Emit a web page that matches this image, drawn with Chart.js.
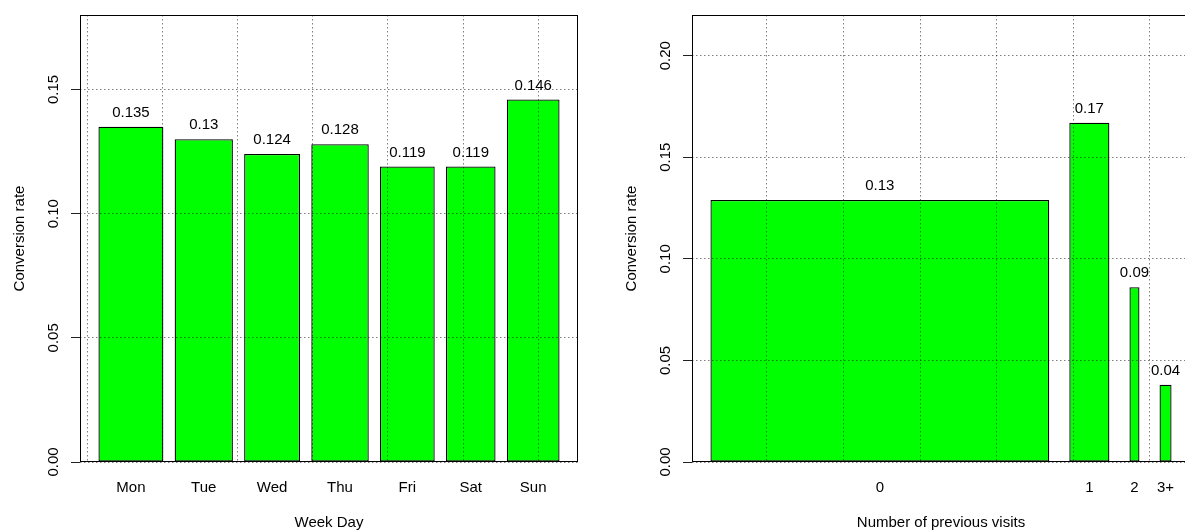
<!DOCTYPE html>
<html>
<head>
<meta charset="utf-8">
<script src="https://cdn.jsdelivr.net/npm/chart.js@4.4.1/dist/chart.umd.min.js"></script>
<style>
  html, body { margin: 0; padding: 0; background: #fff; overflow: hidden; }
  body { width: 1185px; height: 532px; position: relative; }
  canvas { position: absolute; top: 0; }
  #dayChart { left: 0; }
  #visitChart { left: 612px; }
</style>
</head>
<body>
<canvas id="dayChart" width="612" height="532"></canvas>
<canvas id="visitChart" width="612" height="532"></canvas>
<script>
// conversion by week day; bar width = share of sessions
const dayLabels = ['Mon', 'Tue', 'Wed', 'Thu', 'Fri', 'Sat', 'Sun'];
const dayRate = [0.135, 0.13, 0.124, 0.128, 0.119, 0.119, 0.146];
const dayShare = [0.165, 0.148, 0.142, 0.146, 0.139, 0.126, 0.134];
const dayTicks = [0, 0.05, 0.10, 0.15];

// conversion by number of previous visits
const visitLabels = ['0', '1', '2', '3+'];
const visitRate = [0.129, 0.167, 0.086, 0.038];
const visitShare = [0.845, 0.100, 0.025, 0.030];
const visitTicks = [0, 0.05, 0.10, 0.15, 0.20];

const gridStep = 0.191;
const FONT = '"Liberation Sans", Arial, Helvetica, sans-serif';

Chart.defaults.font.family = FONT;
Chart.defaults.font.size = 15;
Chart.defaults.color = '#000';

// barplot-style placement: gap = 0.2 * mean width, 4% padding on both ends
function barLayout(widths) {
  const space = 0.2 * widths.reduce((a, b) => a + b, 0) / widths.length;
  let right = 0;
  const spans = widths.map(w => {
    right += space + w;
    return [right - w, right];
  });
  const lo = spans[0][0];
  const pad = 0.04 * (right - lo);
  return {
    spans,
    centers: spans.map(s => (s[0] + s[1]) / 2),
    min: lo - pad,
    max: right + pad
  };
}

// bar controller whose bars span [from, to] on a linear x scale
const BaseBar = Chart.BarController || Chart.registry.getController('bar');
class ShareBarController extends BaseBar {
  _calculateBarIndexPixels(index) {
    const scale = this._cachedMeta.iScale;
    const span = this.getDataset().spans[index];
    const a = scale.getPixelForValue(span[0]);
    const b = scale.getPixelForValue(span[1]);
    return {base: a, head: b, center: (a + b) / 2, size: b - a};
  }
}
ShareBarController.id = 'shareBar';
ShareBarController.defaults = BaseBar.defaults;
ShareBarController.overrides = BaseBar.overrides;
Chart.register(ShareBarController);

const frame = {
  id: 'frame',
  afterDatasetsDraw(chart) {
    const ctx = chart.ctx;
    const ds = chart.data.datasets[0];
    ctx.save();
    ctx.font = '15px ' + FONT;
    ctx.fillStyle = '#000';
    ctx.textAlign = 'center';
    ctx.textBaseline = 'middle';
    chart.getDatasetMeta(0).data.forEach((bar, i) => {
      const v = ds.data[i].y;
      const txt = ds.digits == null ? String(v) : v.toFixed(ds.digits);
      ctx.fillText(txt, bar.x, bar.y - 14);
    });
    ctx.restore();
  },
  afterDraw(chart) {
    const {ctx, chartArea: a, scales: {y}} = chart;
    ctx.save();
    ctx.strokeStyle = '#000';
    ctx.lineWidth = 1;
    const l = Math.round(a.left) + 0.5, t = Math.round(a.top) + 0.5;
    const r = Math.round(a.right) - 0.5, b = Math.round(a.bottom) - 0.5;
    ctx.strokeRect(l, t, r - l, b - t);

    // rotated y tick labels
    ctx.font = '15px ' + FONT;
    ctx.fillStyle = '#000';
    ctx.textAlign = 'center';
    ctx.textBaseline = 'middle';
    y.ticks.forEach(tk => {
      ctx.save();
      ctx.translate(a.left - 26, y.getPixelForValue(tk.value));
      ctx.rotate(-Math.PI / 2);
      ctx.fillText(tk.value.toFixed(2), 0, 0);
      ctx.restore();
    });
    ctx.restore();
  }
};

const dotted = 'rgba(0,0,0,0.5)';

function makeChart(id, labels, rates, shares, yTicks, yMax, xTitle, digits) {
  const lay = barLayout(shares);
  const gridVals = [];
  for (let k = Math.ceil(lay.min / gridStep); k * gridStep <= lay.max; k++) {
    gridVals.push(k * gridStep);
  }
  return new Chart(document.getElementById(id), {
    type: 'shareBar',
    data: {
      datasets: [{
        data: rates.map((r, i) => ({x: lay.centers[i], y: r})),
        spans: lay.spans,
        digits: digits,
        backgroundColor: '#00ff00',
        borderColor: '#000',
        borderWidth: 1.3,
        borderSkipped: false,
        grouped: false
      }]
    },
    options: {
      responsive: false,
      animation: false,
      events: [],
      layout: {padding: {left: 11, right: 34, top: 15, bottom: 0}},
      plugins: {legend: {display: false}, tooltip: {enabled: false}},
      scales: {
        x: {
          type: 'linear',
          axis: 'x',
          position: 'bottom',
          offset: false,
          bounds: 'data',
          min: lay.min,
          max: lay.max,
          afterBuildTicks: s => { s.ticks = lay.centers.map(v => ({value: v})); },
          ticks: {
            autoSkip: false,
            maxRotation: 0,
            padding: 17,
            callback: (v, i) => labels[i]
          },
          grid: {display: false, drawTicks: false, offset: false},
          border: {display: false},
          title: {display: true, text: xTitle, padding: {top: 0, bottom: 0}}
        },
        xg: {
          type: 'linear',
          axis: 'x',
          position: 'bottom',
          offset: false,
          bounds: 'data',
          min: lay.min,
          max: lay.max,
          afterBuildTicks: s => { s.ticks = gridVals.map(v => ({value: v})); },
          ticks: {display: false},
          grid: {color: dotted, drawTicks: false, offset: false, z: 1},
          border: {display: false, dash: [1.5, 2.5]}
        },
        y: {
          type: 'linear',
          min: 0,
          max: yMax,
          afterBuildTicks: s => { s.ticks = yTicks.map(v => ({value: v})); },
          ticks: {display: false},
          grid: {
            color: dotted,
            z: 1,
            tickLength: 9,
            tickColor: '#222',
            tickBorderDash: []
          },
          border: {display: false, dash: [1.5, 2.5]},
          title: {display: true, text: 'Conversion rate', padding: {top: 0, bottom: 42}}
        }
      }
    },
    plugins: [frame]
  });
}

makeChart('dayChart', dayLabels, dayRate, dayShare, dayTicks, 0.18, 'Week Day', null);
makeChart('visitChart', visitLabels, visitRate, visitShare, visitTicks, 0.22, 'Number of previous visits', 2);
</script>
</body>
</html>
